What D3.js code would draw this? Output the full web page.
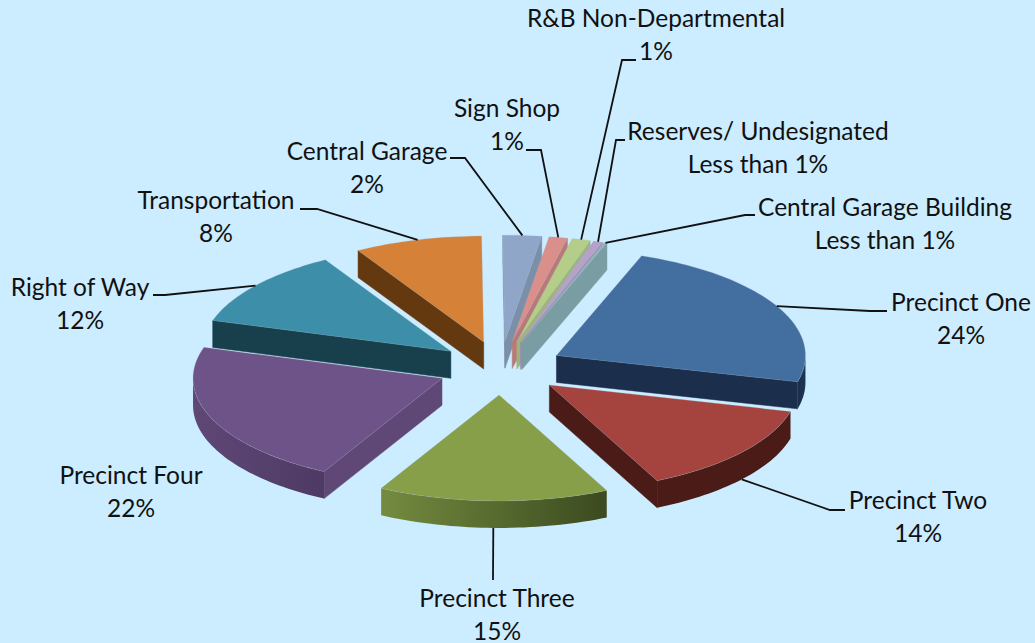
<!DOCTYPE html>
<html>
<head>
<meta charset="utf-8">
<title>Road and Bridge budget</title>
<script src="https://cdn.jsdelivr.net/npm/d3@7"></script>
<style>
  html, body { margin: 0; padding: 0; background: #ccecff; overflow: hidden; }
  text { font-family: Lato, "Open Sans", sans-serif; font-size: 24.5px; fill: #111; }
</style>
</head>
<body>
<div id="container"></div>
<script>
var names = ["Precinct One", "Precinct Two", "Precinct Three", "Precinct Four", "Right of Way", "Transportation",
    "Central Garage", "Sign Shop", "R&B Non-Departmental", "Reserves/ Undesignated", "Central Garage Building"];
var shareLabels = ["24%", "14%", "15%", "22%", "12%", "8%", "2%", "1%", "1%", "Less than 1%", "Less than 1%"];
// slice sizes
var values = [23.5, 13.9, 15, 21.9, 11.9, 8.3, 2.5, 1.2, 1.2, 0.6, 0.2];

var topColors = ["#436ea0", "#a5433e", "#879f48", "#6e5389", "#3d8fa9", "#d68138", "#8fa6c9", "#da8f8b", "#b4ce8a", "#b5a1ca", "#8fb4c0"];
var wallLeft = ["#1b2f4d", "#4b1b17", "#748b3f", "#5f4776", "#17404c", "#64390f", "#7b8fa8", "#b87a78", "#9db57c", "#9c8db0", "#7a9da3"];
var wallRight = ["#1f3554", "#4b1b17", "#3b4a1f", "#4e3a64", "#17404c", "#64390f", "#7b8fa8", "#b87a78", "#9db57c", "#9c8db0", "#7a9da3"];

// label centre and baseline of first line, then the elbow of the leader (null = no leader)
var labelX = [961, 918, 497, 131, 80, 216, 367, 507, 656, 758, 885];
var labelY = [311, 509, 607, 484, 296, 209, 160, 117, 27, 140, 216];
var leaderElbow = [[870, 311, 887], [830, 510, 845], [493, 580, 493], null, [165, 295, 153], [317, 209, 300],
    [465, 158, 450], [541, 150, 526], [622, 60, 636], [616, 140, 625], [745, 215, 755]];

var width = 1035, height = 643;
var cx = 500.5, cy = 368, rx = 249, ry = 106, depth = 27, explode = 0.254, lineGap = 32.5;

var svg = d3.select("#container").append("svg")
    .attr("width", width)
    .attr("height", height);

var x = d3.scaleLinear().domain([-1, 1]).range([cx - rx, cx + rx]);
var y = d3.scaleLinear().domain([-1, 1]).range([cy + ry, cy - ry]);

var start = 20 * Math.PI / 180;
var pie = d3.pie().sort(null).startAngle(start).endAngle(start + 2 * Math.PI);
var arcs = pie(values).map(function(d, i) {
    d.index = i;
    d.mid = (d.startAngle + d.endAngle) / 2;
    d.ox = explode * Math.sin(d.mid);
    d.oy = explode * Math.cos(d.mid);
    return d;
});

function rim(d, a, drop) {
    return [x(d.ox + Math.sin(a)), y(d.oy + Math.cos(a)) + (drop || 0)];
}
function apex(d, drop) {
    return [x(d.ox), y(d.oy) + (drop || 0)];
}
function sweep(a0, a1) {
    var n = Math.max(2, Math.ceil((a1 - a0) * 40));
    return d3.range(n + 1).map(function(k) { return a0 + (a1 - a0) * k / n; });
}

var line = d3.line();
var defs = svg.append("defs");
var pieG = svg.append("g");

// back slices first so nearer ones paint over them
arcs.slice().sort(function(a, b) { return Math.cos(b.mid) - Math.cos(a.mid); }).forEach(function(d) {
    var g = pieG.append("g").attr("class", "slice");
    var wall = wallLeft[d.index];

    function radialWall(a) {
        g.append("path")
            .attr("d", line([apex(d), rim(d, a), rim(d, a, depth), apex(d, depth)]) + "Z")
            .attr("fill", wall)
            .attr("stroke", wall)
            .attr("stroke-width", 0.5);
    }
    if (Math.sin(d.startAngle) < 0) radialWall(d.startAngle);
    if (Math.sin(d.endAngle) > 0) radialWall(d.endAngle);

    // outer curved wall, only the part that faces the viewer
    var a0 = Math.max(d.startAngle, Math.PI / 2), a1 = Math.min(d.endAngle, 1.5 * Math.PI);
    if (a1 > a0) {
        var gradId = "wall" + d.index;
        var grad = defs.append("linearGradient")
            .attr("id", gradId)
            .attr("gradientUnits", "userSpaceOnUse")
            .attr("x1", rim(d, a1)[0]).attr("x2", rim(d, a0)[0])
            .attr("y1", 0).attr("y2", 0);
        grad.append("stop").attr("offset", 0).attr("stop-color", wallLeft[d.index]);
        grad.append("stop").attr("offset", 1).attr("stop-color", wallRight[d.index]);
        var angles = sweep(a0, a1);
        var strip = angles.map(function(a) { return rim(d, a); })
            .concat(angles.slice().reverse().map(function(a) { return rim(d, a, depth); }));
        g.append("path")
            .attr("d", line(strip) + "Z")
            .attr("fill", "url(#" + gradId + ")");
    }

    var face = [apex(d)].concat(sweep(d.startAngle, d.endAngle).map(function(a) { return rim(d, a); }));
    g.append("path")
        .attr("d", line(face) + "Z")
        .attr("fill", topColors[d.index])
        .attr("stroke", "#9fb4c4")
        .attr("stroke-opacity", 0.3)
        .attr("stroke-width", 0.8);
});

// leader lines start on the rim at each slice's middle
arcs.forEach(function(d) {
    var elbow = leaderElbow[d.index];
    if (!elbow) return;
    var front = Math.cos(d.mid) < 0;
    var from = rim(d, d.mid, front ? depth : 0);
    svg.append("path")
        .attr("d", line([from, [elbow[0], elbow[1]], [elbow[2], elbow[1]]]))
        .attr("fill", "none")
        .attr("stroke", "#111")
        .attr("stroke-width", 1.8);
});

var labels = svg.append("g").attr("text-anchor", "middle");
names.forEach(function(name, i) {
    labels.append("text").attr("x", labelX[i]).attr("y", labelY[i]).text(name);
    labels.append("text").attr("x", labelX[i]).attr("y", labelY[i] + lineGap).text(shareLabels[i]);
});
</script>
</body>
</html>
